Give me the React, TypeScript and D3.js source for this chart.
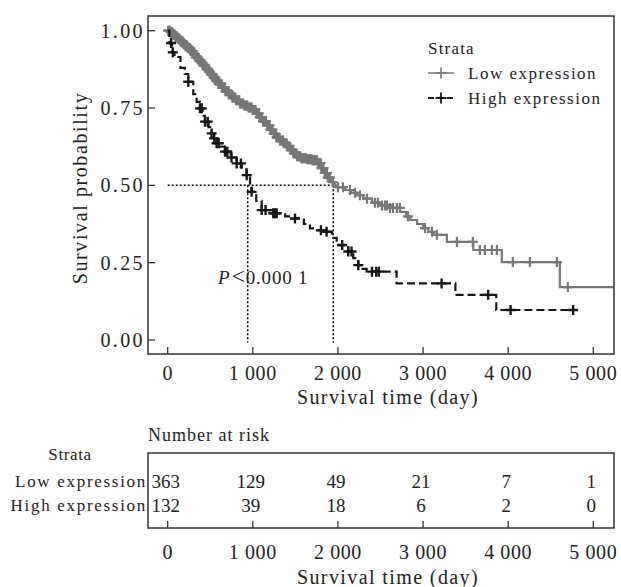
import * as d3 from 'd3';

// x ticks (days) and y ticks (probability)
const xTicks = [0, 1000, 2000, 3000, 4000, 5000];
const yTicks = [0, 0.25, 0.5, 0.75, 1];

// Kaplan-Meier steps: [time, survival]
const lowSteps: [number, number][] = [
  [0, 1.0], [30, 0.995], [60, 0.988], [90, 0.981], [120, 0.974], [150, 0.966],
  [180, 0.958], [210, 0.95], [240, 0.943], [270, 0.934], [300, 0.924], [330, 0.914],
  [360, 0.905], [390, 0.896], [420, 0.887], [450, 0.877], [480, 0.868], [510, 0.858],
  [540, 0.848], [570, 0.838], [600, 0.828], [640, 0.816], [680, 0.804], [720, 0.794],
  [760, 0.784], [800, 0.775], [850, 0.765], [900, 0.758], [950, 0.752], [1000, 0.744],
  [1040, 0.733], [1080, 0.72], [1120, 0.707], [1160, 0.694], [1200, 0.68], [1240, 0.666],
  [1280, 0.655], [1320, 0.645], [1360, 0.636], [1400, 0.626], [1440, 0.615], [1480, 0.603],
  [1520, 0.594], [1570, 0.588], [1640, 0.584], [1700, 0.581], [1760, 0.572], [1800, 0.556],
  [1840, 0.54], [1880, 0.525], [1920, 0.51], [1960, 0.5], [2000, 0.494], [2080, 0.485],
  [2150, 0.476], [2220, 0.468], [2300, 0.457], [2400, 0.444], [2500, 0.435], [2610, 0.427],
  [2730, 0.414], [2800, 0.4], [2850, 0.388], [2930, 0.375], [3000, 0.362], [3060, 0.35],
  [3120, 0.34], [3280, 0.317], [3590, 0.291], [3925, 0.252], [4607, 0.171], [5300, 0.171],
];

const highSteps: [number, number][] = [
  [0, 1.0], [20, 0.96], [50, 0.93], [80, 0.915], [150, 0.88], [200, 0.86], [242, 0.835],
  [300, 0.795], [340, 0.77], [379, 0.749], [410, 0.725], [438, 0.706], [480, 0.688],
  [516, 0.668], [545, 0.652], [575, 0.636], [620, 0.625], [673, 0.609], [740, 0.59],
  [810, 0.571], [870, 0.552], [928, 0.533], [967, 0.496], [986, 0.479], [1040, 0.45],
  [1104, 0.42], [1240, 0.41], [1380, 0.4], [1495, 0.393], [1600, 0.375], [1671, 0.361],
  [1760, 0.355], [1867, 0.35], [1930, 0.33], [1985, 0.307], [2121, 0.286], [2180, 0.265],
  [2239, 0.242], [2290, 0.23], [2337, 0.221], [2689, 0.183], [3380, 0.146], [3860, 0.097],
  [4763, 0.097],
];

// censoring times
const lowCensor = [
  5, 15, 25, 35, 45, 55, 70, 80, 90, 100, 110, 120, 130, 140, 150, 165, 175, 185, 200,
  210, 220, 230, 240, 255, 265, 275, 285, 295, 310, 320, 330, 340, 350, 365, 375, 385,
  400, 410, 420, 430, 440, 455, 465, 475, 485, 495, 510, 520, 530, 540, 550, 560, 570,
  580, 590, 600, 610, 620, 630, 640, 650, 660, 670, 680, 690, 700, 715, 725, 740, 750,
  760, 770, 780, 790, 805, 815, 830, 840, 850, 860, 875, 885, 900, 910, 925, 935, 950,
  960, 975, 985, 1000, 1010, 1020, 1030, 1045, 1055, 1070, 1080, 1095, 1105, 1120, 1130,
  1145, 1155, 1170, 1180, 1195, 1205, 1220, 1230, 1245, 1255, 1270, 1280, 1295, 1305,
  1320, 1330, 1345, 1355, 1370, 1380, 1395, 1405, 1420, 1430, 1445, 1455, 1470, 1480,
  1495, 1505, 1520, 1530, 1545, 1555, 1570, 1580, 1595, 1610, 1625, 1640, 1655, 1670,
  1690, 1700, 1710, 1720, 1730, 1745, 1755, 1770, 1780, 1795, 1805, 1820, 1830, 1845,
  1855, 1870, 1880, 1895, 1905, 1941, 2000, 2059, 2141, 2200, 2258, 2341, 2435, 2470,
  2517, 2552, 2576, 2611, 2646, 2693, 2728, 2822, 3022, 3104, 3163, 3398, 3585, 3667,
  3726, 3808, 3867, 4055, 4255, 4572, 4701,
];
const highCensor = [
  40, 60, 242, 379, 400, 438, 470, 516, 545, 575, 600, 673, 700, 750, 810, 860, 928,
  986, 1104, 1150, 1240, 1260, 1280, 1495, 1800, 1867, 2050, 2121, 2160, 2239, 2400,
  2450, 2480, 3218, 3765, 4028, 4763,
];

// median survival times
const medians = [940, 1945];

// number at risk
const riskTimes = [0, 1000, 2000, 3000, 4000, 5000];
const riskLow = [363, 129, 49, 21, 7, 1];
const riskHigh = [132, 39, 18, 6, 2, 0];

const LOW = '#777777';
const HIGH = '#161616';
const AXIS = '#333333';
const FONT = '"Liberation Serif", "Times New Roman", serif';

function survAt(steps: [number, number][], t: number) {
  let s = steps[0][1];
  for (const [tt, ss] of steps) {
    if (tt <= t) s = ss;
    else break;
  }
  return s;
}

const fmtTick = (t: number) => (t === 0 ? '0' : `${t / 1000} 000`);

export default function App() {
  const box = { left: 148, right: 614, top: 16, bottom: 354 };
  const x = d3.scaleLinear().domain([0, 5000]).range([167.7, 593.3]);
  const y = d3.scaleLinear().domain([0, 1]).range([340, 30.7]);

  const line = d3
    .line<[number, number]>()
    .x((d) => x(d[0]))
    .y((d) => y(d[1]))
    .curve(d3.curveStepAfter);

  const tbl = { top: 453, bottom: 528 };
  const rowY = [481, 505];

  const cross = (cx: number, cy: number, color: string, k: string, w = 2.2, r = 5) => (
    <path
      key={k}
      d={`M${cx - r},${cy}H${cx + r}M${cx},${cy - r}V${cy + r}`}
      stroke={color}
      strokeWidth={w}
      fill="none"
    />
  );

  return (
    <svg
      width={621}
      height={587}
      style={{ position: 'absolute', left: 0, top: 0, background: '#fff' }}
      fontFamily={FONT}
    >
      <defs>
        <clipPath id="plotClip">
          <rect x={box.left} y={box.top} width={box.right - box.left} height={box.bottom - box.top} />
        </clipPath>
      </defs>

      {/* median lines */}
      <g stroke="#000" strokeWidth={1.5} strokeDasharray="2,2" fill="none">
        <line x1={x(0)} x2={x(medians[1])} y1={y(0.5)} y2={y(0.5)} />
        {medians.map((m) => (
          <line key={m} x1={x(m)} x2={x(m)} y1={y(0.5)} y2={y(-0.008)} />
        ))}
      </g>

      <g clipPath="url(#plotClip)">
        <path d={line(lowSteps) || ''} stroke={LOW} strokeWidth={2.2} fill="none" />
        {lowCensor.map((t, i) => cross(x(t), y(survAt(lowSteps, t)), LOW, 'l' + i))}
        <path
          d={line(highSteps) || ''}
          stroke={HIGH}
          strokeWidth={2.2}
          strokeDasharray="8,4"
          fill="none"
        />
        {highCensor.map((t, i) => cross(x(t), y(survAt(highSteps, t)), HIGH, 'h' + i, 2.4))}
      </g>

      {/* frame */}
      <rect
        x={box.left}
        y={box.top}
        width={box.right - box.left}
        height={box.bottom - box.top}
        fill="none"
        stroke={AXIS}
        strokeWidth={1.5}
      />

      {/* y axis */}
      {yTicks.map((t) => (
        <g key={t}>
          <line x1={box.left} x2={box.left + 7} y1={y(t)} y2={y(t)} stroke={AXIS} strokeWidth={1.3} />
          <text
            x={145}
            y={y(t)}
            textAnchor="end"
            dominantBaseline="central"
            fontSize={20}
            letterSpacing={2.4}
            fill="#222"
          >
            {t.toFixed(2)}
          </text>
        </g>
      ))}
      <text
        transform="translate(80,188) rotate(-90)"
        textAnchor="middle"
        dominantBaseline="central"
        fontSize={20}
        letterSpacing={1.6}
        fill="#222"
      >
        Survival probability
      </text>

      {/* x axis */}
      {xTicks.map((t) => (
        <g key={t}>
          <line x1={x(t)} x2={x(t)} y1={box.bottom} y2={box.bottom - 7} stroke={AXIS} strokeWidth={1.3} />
          <text
            x={x(t)}
            y={373}
            textAnchor="middle"
            dominantBaseline="central"
            fontSize={20}
            letterSpacing={0.6}
            fill="#222"
          >
            {fmtTick(t)}
          </text>
        </g>
      ))}
      <text
        x={388}
        y={397}
        textAnchor="middle"
        dominantBaseline="central"
        fontSize={20}
        letterSpacing={1.4}
        fill="#222"
      >
        Survival time (day)
      </text>

      {/* P value */}
      <text x={218} y={277} dominantBaseline="central" fontSize={19} letterSpacing={0.8} fill="#222">
        <tspan fontStyle="italic">P</tspan>
        <tspan fontSize={24} dx={1} dy={-1}>{'<'}</tspan>
        <tspan dy={1}>{'0.000 1'}</tspan>
      </text>

      {/* legend */}
      <text x={428} y={48} dominantBaseline="central" fontSize={17} letterSpacing={1.2} fill="#222">
        Strata
      </text>
      <line x1={428} x2={454} y1={73} y2={73} stroke={LOW} strokeWidth={1.5} />
      {cross(441, 73, LOW, 'lg1', 1.6, 5.5)}
      <text x={468} y={73} dominantBaseline="central" fontSize={17} letterSpacing={1.5} fill="#222">
        Low expression
      </text>
      <line x1={428} x2={454} y1={98} y2={98} stroke={HIGH} strokeWidth={1.8} strokeDasharray="6,3.5" />
      {cross(441, 98, HIGH, 'lg2', 1.8, 5.5)}
      <text x={468} y={98} dominantBaseline="central" fontSize={17} letterSpacing={1.5} fill="#222">
        High expression
      </text>

      {/* risk table */}
      <text x={148} y={435} dominantBaseline="central" fontSize={18} letterSpacing={1} fill="#222">
        Number at risk
      </text>
      <text x={70} y={454} textAnchor="middle" dominantBaseline="central" fontSize={17} letterSpacing={0.6} fill="#222">
        Strata
      </text>
      {['Low expression', 'High expression'].map((lab, i) => (
        <text
          key={lab}
          x={147}
          y={rowY[i]}
          textAnchor="end"
          dominantBaseline="central"
          fontSize={17}
          letterSpacing={1.7}
          fill="#222"
        >
          {lab}
        </text>
      ))}
      <rect
        x={box.left}
        y={tbl.top}
        width={box.right - box.left}
        height={tbl.bottom - tbl.top}
        fill="none"
        stroke={AXIS}
        strokeWidth={1.5}
      />
      {riskTimes.map((t, i) => (
        <g key={t}>
          <text x={x(t) - 2} y={rowY[0]} textAnchor="middle" dominantBaseline="central" fontSize={19} fill="#222">
            {riskLow[i]}
          </text>
          <text x={x(t) - 2} y={rowY[1]} textAnchor="middle" dominantBaseline="central" fontSize={19} fill="#222">
            {riskHigh[i]}
          </text>
          <line x1={x(t)} x2={x(t)} y1={tbl.bottom} y2={tbl.bottom - 7} stroke={AXIS} strokeWidth={1.3} />
          <text
            x={x(t)}
            y={552}
            textAnchor="middle"
            dominantBaseline="central"
            fontSize={20}
            letterSpacing={0.6}
            fill="#222"
          >
            {fmtTick(t)}
          </text>
        </g>
      ))}
      <text
        x={388}
        y={577}
        textAnchor="middle"
        dominantBaseline="central"
        fontSize={20}
        letterSpacing={1.4}
        fill="#222"
      >
        Survival time (day)
      </text>
    </svg>
  );
}
